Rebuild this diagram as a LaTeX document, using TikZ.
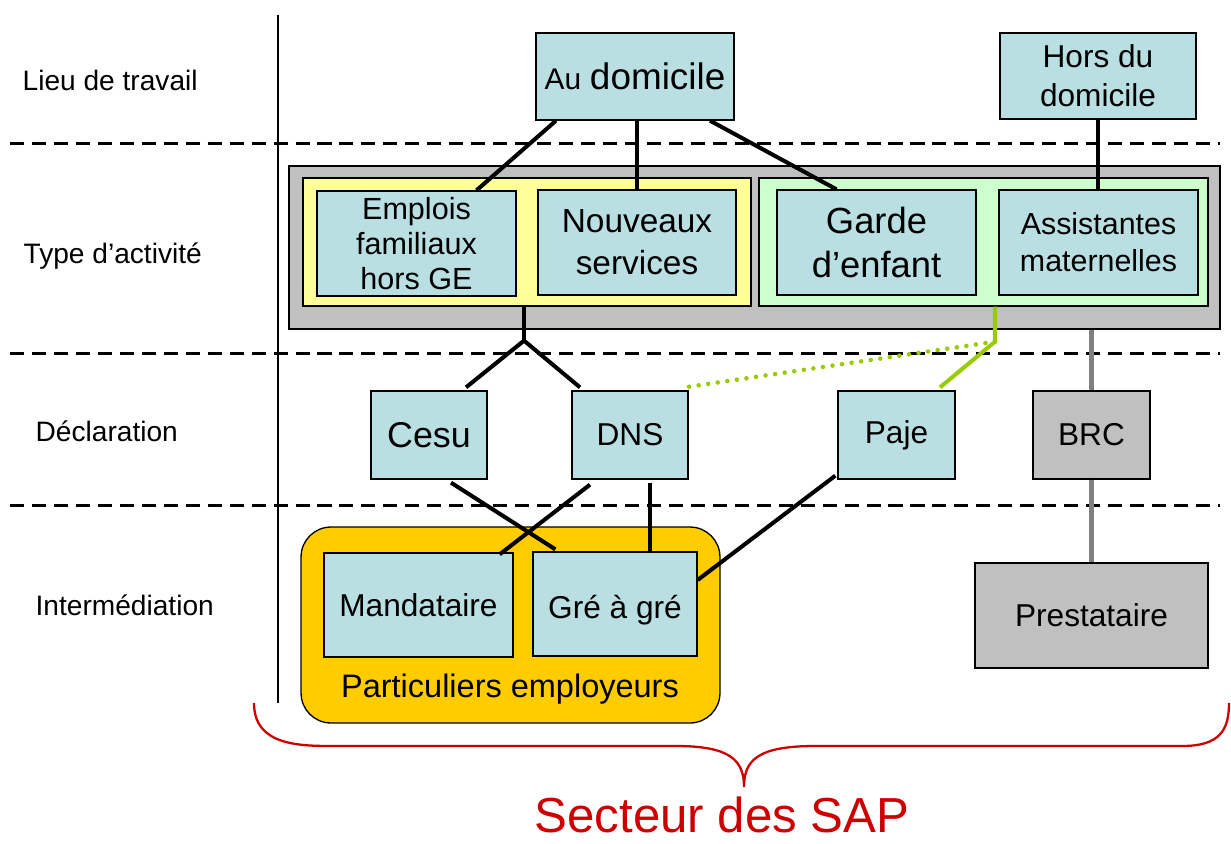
\documentclass[tikz,border=0pt]{standalone}
\usepackage{fontspec}
\setmainfont{Liberation Sans}
\usetikzlibrary{calc}
\definecolor{boxblue}{RGB}{185,223,227}
\definecolor{paleyellow}{RGB}{255,255,153}
\definecolor{palegreen}{RGB}{204,255,204}
\definecolor{boxgray}{RGB}{192,192,192}
\definecolor{gold}{RGB}{255,204,0}
\definecolor{sapred}{RGB}{204,0,0}
\definecolor{limeline}{RGB}{153,204,0}
\tikzset{every picture/.style={line width=0.75pt}}

\begin{document}
\begin{tikzpicture}[x=0.02cm,y=-0.02cm,
    box/.style={draw, fill=boxblue, align=center, inner sep=0pt, font=\fontsize{18}{22}\selectfont},
    group/.style={draw, inner sep=0pt},
    rowlabel/.style={anchor=west, inner sep=0pt, font=\fontsize{16}{19}\selectfont},
    link/.style={line width=2.3pt},
    greyline/.style={line width=2.4pt, draw=gray},
    limeedge/.style={line width=2.3pt, draw=limeline},
    sepline/.style={line width=1.7pt, dash pattern=on 8pt off 4.5pt}]
    \useasboundingbox (0,0) rectangle (1231,843);

    % rows
    \draw[sepline] (10,143) -- (1220,143);
    \draw[sepline] (10,353) -- (1220,353);
    \draw[sepline] (10,505) -- (1220,505);
    \draw (278,15) -- (278,703);
    \node[rowlabel] (lieu) at (22,80) {Lieu de travail};
    \node[rowlabel] (type) at (23,256) {Type d’activité};
    \node[rowlabel] (decl) at (35,431) {Déclaration};
    \node[rowlabel] (inter) at (35,605) {Intermédiation};

    % lieu de travail
    \node[box, minimum width=3.96cm, minimum height=1.74cm] (dom) at (635,76.5)
        {{\fontsize{17}{20}\selectfont Au} {\fontsize{21}{24}\selectfont domicile}};
    \node[box, minimum width=3.92cm, minimum height=1.72cm] (hors) at (1098,76) {Hors du\\domicile};

    % type d'activite
    \node[group, fill=boxgray, minimum width=18.62cm, minimum height=3.26cm] (act) at (754.5,247.5) {};
    \node[group, fill=paleyellow, minimum width=8.96cm, minimum height=2.56cm] (fam) at (527,242) {};
    \node[group, fill=palegreen, minimum width=8.98cm, minimum height=2.56cm] (enf) at (983.5,242) {};
    \node[box, minimum width=3.98cm, minimum height=2.1cm, font=\fontsize{17.4}{20}\selectfont] (emp) at (416.5,243.5) {Emplois\\familiaux\\hors GE};
    \node[box, minimum width=3.96cm, minimum height=2.1cm, font=\fontsize{19}{24}\selectfont] (nouv) at (637,242.5) {Nouveaux\\services};
    \node[box, minimum width=3.98cm, minimum height=2.1cm, font=\fontsize{20.7}{24.5}\selectfont] (garde) at (876.5,242.5) {Garde\\d’enfant};
    \node[box, minimum width=3.98cm, minimum height=2.1cm, font=\fontsize{17.3}{21}\selectfont] (assmat) at (1098.5,242.5) {Assistantes\\maternelles};

    % declaration
    \node[box, minimum width=2.32cm, minimum height=1.76cm, font=\fontsize{20.4}{24}\selectfont] (cesu) at (429,435) {Cesu};
    \node[box, minimum width=2.32cm, minimum height=1.76cm] (dns) at (630,435) {DNS};
    \node[box, minimum width=2.34cm, minimum height=1.76cm] (paje) at (896.5,435) {Paje};
    \node[box, fill=boxgray, minimum width=2.34cm, minimum height=1.76cm] (brc) at (1091.5,435) {BRC};

    % intermediation
    \node[group, fill=gold, rounded corners=0.6cm, minimum width=8.38cm, minimum height=3.92cm] (part) at (510.5,625) {};
    \node[anchor=base, inner sep=0pt, font=\fontsize{18.5}{22}\selectfont] (partlabel) at (510,697) {Particuliers employeurs};
    \node[box, minimum width=3.78cm, minimum height=2.08cm] (mand) at (418.5,605) {Mandataire};
    \node[box, minimum width=3.28cm, minimum height=2.08cm, text depth=0pt] (gre) at (615,604) {\raisebox{-0.3ex}{Gré à gré}};
    \node[box, fill=boxgray, minimum width=4.66cm, minimum height=2.1cm] (prest) at (1091.5,615.5) {Prestataire};

    % links
    \coordinate (famsplit) at ($(fam.south)+(-3,34)$);
    \coordinate (enfbend) at ($(enf.south)+(11.5,35)$);
    \draw[link] ($(dom.south)+(-79,0)$) -- ($(emp.north)+(60,0)$);
    \draw[link] (nouv.north |- dom.south) -- (nouv.north);
    \draw[link] ($(dom.south)+(75,0)$) -- ($(garde.north)+(-40,0)$);
    \draw[link] (hors.south) -- (assmat.north -| hors.south);
    \draw[link] ($(fam.south)+(-3,0)$) -- (famsplit);
    \draw[link] (famsplit) -- ($(cesu.north)+(37,-3)$);
    \draw[link] (famsplit) -- ($(dns.north)+(-50,-3)$);
    \draw[limeedge] ($(enf.south)+(11.5,0)$) -- (enfbend) -- ($(paje.north)+(43.5,-3)$);
    \draw[draw=limeline, line width=2.6pt, line cap=round, dash pattern=on 0pt off 5.5pt] (enfbend) -- ($(dns.north east)+(-4,-3)$);
    \draw[greyline] (brc.north |- act.south) -- (brc.north);
    \draw[greyline] (brc.south) -- (prest.north -| brc.south);
    \draw[link] ($(cesu.south)+(22,3)$) -- ($(gre.north west)+(23,-2)$);
    \draw[link] ($(dns.south)+(-40,5)$) -- ($(mand.north east)+(-14,2)$);
    \draw[link] ($(dns.south)+(20,3)$) -- ($(gre.north)+(35,0)$);
    \draw[link] ($(paje.south west)+(-2,-4)$) -- ($(gre.east)+(0,-24)$);

    % brace
    \draw[sapred, line width=1.3pt] (254,703) .. controls (254,746) and (300,746) .. (335,746)
        -- (676,746) .. controls (730,746) and (744,760) .. (744,787)
        .. controls (744,760) and (758,746) .. (815,746)
        -- (1182,746) .. controls (1220,746) and (1229,730) .. (1229,703);
    \node[text=sapred, inner sep=0pt, font=\fontsize{28}{32}\selectfont] (sap) at (722,815) {Secteur des SAP};
\end{tikzpicture}
\end{document}
